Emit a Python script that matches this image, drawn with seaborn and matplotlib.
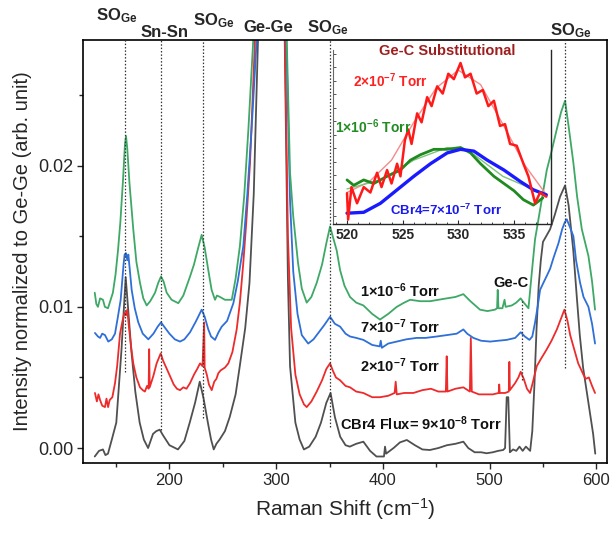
import numpy as np
import pandas as pd
import matplotlib
matplotlib.use("Agg")
import matplotlib.pyplot as plt
import seaborn as sns
from matplotlib.ticker import MultipleLocator

# ---------------- data ----------------
gray_x = [130, 134, 137.7, 140, 142.4, 146, 150.2, 155, 159, 164.3, 168, 172.1, 176, 180, 184.6, 187.7, 190.9, 194, 200, 208,
          214, 219, 224, 228.4, 232, 236, 239, 241.5, 244, 247, 252, 256.5, 262, 265.9, 271, 275, 279, 283, 292, 304, 308,
          311, 313, 318, 322, 326, 331, 337, 342, 347, 351, 355, 360, 365, 369, 375, 381.7, 388, 394, 401, 402, 403, 410,
          416, 422.4, 430, 437, 444, 452, 460, 468, 475.4, 480, 486, 492, 497.3, 503, 508, 512.7, 514.5, 516, 517.5, 519,
          522, 525, 528, 531, 534, 538, 540, 542, 544, 546, 548, 550, 553, 556.7, 561, 566, 570.7, 574, 578.4, 581.7,
          584.5, 587.6, 592, 597, 599]
gray_y = [-0.0006, -0.0002, -0.0001, -0.0005, -0.0004, 0.0006, 0.0018, 0.0069, 0.0121, 0.0069, 0.0040, 0.0018, 0.0006, 0.0,
          0.0010, 0.0012, 0.0013, 0.0009, 0.0002, -0.0001,
          0.0005, 0.0018, 0.0032, 0.0047, 0.0035, 0.0018, 0.0006, -0.0001, 0.0003, 0.0006, 0.0012, 0.0022, 0.0038, 0.0058,
          0.0085, 0.0117, 0.018, 0.029, 0.06, 0.06, 0.029,
          0.012, 0.0058, 0.0018, 0.0006, -0.0001, 0.0001, 0.0008, 0.0018, 0.0032, 0.0039, 0.0022, 0.0008, 0.0002, 0.0001,
          0.0003, 0.00045, -0.0002, -0.0006, -0.0006, 0.0001, -0.0004, 0.0,
          0.0004, 0.00057, 0.0002, -0.0001, -0.00014, 0.0, 0.0002, 0.0003, 0.00045, 0.0, -0.0003, -0.0003, -0.00037,
          -0.0003, -0.0002, -0.00014, 0.0, 0.0036, 0.0036, -0.0003,
          -0.0001, -0.0002, 0.0001, -0.0002, 0.0001, -0.0002, 0.0012, 0.0045, 0.0085, 0.0115, 0.0133, 0.0146, 0.0150,
          0.0155, 0.0165, 0.0178, 0.0186, 0.0172, 0.0140, 0.0107,
          0.0080, 0.0057, 0.0035, 0.0010, -0.0004]

red_x = [130.2, 132, 133.5, 135, 137, 139.6, 141, 142.5, 144, 146.5, 149, 151, 153.7, 156, 158, 159.3, 160.5, 162, 164, 166.1,
         169, 172.4, 175, 177, 179, 180.5, 181, 181.5, 184.9, 188, 191.8, 194, 197, 200.5, 204, 207, 209.9, 213, 216,
         219.3, 223, 226, 228.7, 231, 232.5, 233, 235, 237, 239.6, 242, 244, 245.8, 248, 252, 255.2, 259, 263, 266, 269.2,
         272, 275.5, 280.2, 292, 302, 308.3, 311, 314, 318, 322, 326, 328.6, 333, 338, 343, 347, 350.5, 353, 356, 359.9,
         365, 369.2, 375, 381.7, 390, 397.3, 405, 411, 412, 413, 420, 428.6, 437, 445, 452, 459, 459.8, 460.5, 468, 475.4,
         481.5, 482.4, 483.3, 490, 497.3, 503, 508.5, 509, 509.5, 514.5, 518, 518.5, 519, 523.9, 527, 529.1, 532, 535,
         537.9, 540, 544.2, 548, 553.6, 558, 563, 567, 570.1, 573, 575.5, 578.5, 583, 587.9, 590, 593, 596, 598.8]
red_y = [0.0039, 0.0033, 0.0038, 0.0034, 0.0030, 0.0029, 0.0035, 0.0029, 0.0034, 0.0036, 0.0046, 0.0058, 0.0081, 0.0090,
         0.0096, 0.0094, 0.0098, 0.0086, 0.0072, 0.0060,
         0.0050, 0.0043, 0.0041, 0.0040, 0.0044, 0.0042, 0.0070, 0.0043, 0.0051, 0.0060, 0.0067, 0.0062, 0.0057, 0.0051,
         0.0045, 0.0042, 0.0041, 0.0043, 0.0042,
         0.0046, 0.0052, 0.0056, 0.0060, 0.0058, 0.0089, 0.0057, 0.0052, 0.0045, 0.0041, 0.0047, 0.0049, 0.0053, 0.0055,
         0.0057, 0.0060, 0.0068, 0.0084, 0.0103, 0.0131,
         0.0160, 0.0202, 0.029, 0.06, 0.06, 0.029, 0.015, 0.0085, 0.0052, 0.0038, 0.0031, 0.0029, 0.0033, 0.0040, 0.0048,
         0.0056, 0.0060, 0.0055, 0.0050, 0.0048,
         0.0044, 0.0043, 0.0040, 0.0039, 0.0036, 0.0036, 0.0037, 0.0039, 0.0047, 0.0038, 0.0039, 0.0039, 0.0041, 0.0042,
         0.0040, 0.0040, 0.0065, 0.0040, 0.0042, 0.0043,
         0.0040, 0.0078, 0.0040, 0.0038, 0.0038, 0.0038, 0.0039, 0.0045, 0.0039, 0.0039, 0.0040, 0.0061, 0.0041, 0.0046,
         0.0050, 0.0054, 0.0049, 0.0042,
         0.0039, 0.0045, 0.0058, 0.0063, 0.0070, 0.0076, 0.0084, 0.0092, 0.0098, 0.0090, 0.0080, 0.0072, 0.0060, 0.0052,
         0.0049, 0.0050, 0.0044, 0.0039]

blue_x = [130.2, 133, 135, 137, 139.6, 142.7, 146, 149, 151.5, 154.3, 157, 158, 159.3, 160.5, 161.5, 163, 164.6, 167.5, 170.8,
          175, 180.2, 185, 189, 192.1, 196, 200, 205, 209.9, 214, 219.3, 225, 230.2, 233, 236.4, 239, 242.7, 246, 249, 254,
          259.9, 264, 269.2, 273, 277, 281.8, 294, 304, 309.5, 313, 316, 320, 324, 330, 335, 340, 345, 350.5, 355, 359.9,
          365, 369.2, 375, 381.7, 390, 397, 398, 399, 405, 413, 422, 431.7, 440, 450.5, 460, 469.2, 475.4, 479, 484.8, 492,
          500.5, 508, 516, 524, 529.1, 533, 537.3, 540, 542.6, 545, 547.3, 550.4, 553.6, 556.7, 560, 564.5, 568, 570.5,
          572.3, 575, 578.5, 581, 584.8, 588, 592.6, 596, 598.8]
blue_y = [0.00815, 0.0079, 0.0078, 0.0081, 0.0080, 0.00754, 0.0077, 0.0081, 0.0092, 0.0105, 0.0130, 0.0137, 0.0138, 0.0133,
          0.0137, 0.0125, 0.0112, 0.0099, 0.0089,
          0.0081, 0.0077, 0.0081, 0.0086, 0.0089, 0.0085, 0.0081, 0.0077, 0.00754, 0.0077, 0.0082, 0.0090, 0.0098, 0.0093,
          0.0084, 0.0079, 0.00766, 0.0082, 0.0086, 0.0090,
          0.01026, 0.0118, 0.0143, 0.0180, 0.0226, 0.029, 0.06, 0.06, 0.029, 0.0175, 0.0125, 0.0095, 0.0080, 0.0074, 0.0077,
          0.0082, 0.0087, 0.0093, 0.0088, 0.0086,
          0.0081, 0.0079, 0.0078, 0.00766, 0.0073, 0.0072, 0.0076, 0.0071, 0.0074, 0.00754, 0.0077, 0.0078, 0.0078, 0.0079,
          0.0080, 0.0081, 0.0084, 0.0081, 0.0078, 0.0076,
          0.00754, 0.0076, 0.00766, 0.0078, 0.0082, 0.0079, 0.00766, 0.0079, 0.0089, 0.0100, 0.0112, 0.0117, 0.0122, 0.0127,
          0.0135, 0.0145, 0.0155, 0.0160,
          0.0162, 0.0157, 0.0150, 0.0133, 0.0117, 0.0107, 0.0100, 0.0088, 0.0074]

green_x = [130, 131.5, 133, 135, 137.7, 139.5, 142.4, 144.5, 147, 149.5, 151.8, 154, 156.5, 158.3, 159.3, 160.5, 162.5, 166.1,
           169, 172.4, 175.5, 178.7, 182, 186.5, 189.5, 192.1, 194.5, 197.4, 202, 208.3, 213, 219.3, 223, 227, 230.2, 233,
           236.4, 239.5, 242.7, 244.5, 247.4, 252, 258.4, 262, 266, 270, 274, 278.6, 290, 304, 309.9, 313, 316, 320.5, 324,
           328.6, 333, 338, 343, 347, 350.5, 353, 356.7, 359.9, 364, 369.2, 375, 381.7, 390, 397.3, 405, 413, 420, 425.5,
           435, 444.2, 452, 459.8, 468, 475.4, 482, 491, 498, 505, 507, 507.6, 508.3, 512, 514, 515, 520.8, 525, 529.1, 532,
           536.4, 539.5, 542.6, 544.2, 548, 553.6, 558, 563, 567, 570.7, 574, 578.5, 582, 586.4, 592.6, 596, 598.8]
green_y = [0.0110, 0.0102, 0.0100, 0.0106, 0.0105, 0.0100, 0.0099, 0.0104, 0.0110, 0.0123, 0.0140, 0.0160, 0.0190, 0.0215,
           0.0221, 0.0212, 0.0188, 0.0155,
           0.0132, 0.0117, 0.0106, 0.0101, 0.0104, 0.0110, 0.0117, 0.01215, 0.0118, 0.0110, 0.0105, 0.01026, 0.0108, 0.01215,
           0.0130, 0.0142, 0.0151, 0.0142,
           0.0126, 0.0112, 0.0105, 0.0108, 0.0107, 0.0105, 0.0105, 0.0120, 0.0143, 0.0178, 0.0226, 0.029, 0.06, 0.06, 0.029,
           0.0195, 0.0164, 0.0131, 0.0113,
           0.0103, 0.0107, 0.0117, 0.0130, 0.0145, 0.0157, 0.0150, 0.0140, 0.0126, 0.0115, 0.0107, 0.0103, 0.0101, 0.0095,
           0.0091, 0.0095, 0.0100, 0.0103, 0.0105,
           0.0104, 0.0104, 0.0105, 0.0106, 0.0107, 0.0109, 0.0104, 0.0098, 0.0097, 0.0098, 0.0099, 0.0112, 0.0099, 0.0099,
           0.0105, 0.0100, 0.0101, 0.0103, 0.0106, 0.0103,
           0.0099, 0.0124, 0.0148, 0.0155, 0.0172, 0.0197, 0.0210, 0.0226, 0.0238, 0.0246, 0.0228, 0.0202, 0.0178, 0.0155,
           0.0136, 0.0118, 0.0098]

series_names = ["CBr4 9e-8", "2e-7", "7e-7", "1e-6"]
series_colors = ["#505050", "#ee2b2b", "#2e6fd8", "#3ea866"]

# peak marker positions (dotted guides) and their lower ends
guide_x = [158.5, 192.5, 231.5, 350, 570.5]
guide_ylow = [0.0054, 0.0013, 0.0021, 0.0015, 0.0057]
gec_x = 530.0
gec_range = (0.0048, 0.0105)

# inset data (Ge-C substitutional region, normalised units)
in_red_x = [520, 520.1, 520.4, 520.9, 521.5, 522.1, 522.7, 523.1, 523.6, 524.0, 524.5, 524.8, 525.2, 525.5, 525.8, 526.3,
            526.7, 527.2, 527.6, 528.1, 528.6, 529.1, 529.6, 530.2, 530.6, 531.1, 531.65, 532.2, 532.7, 533.2, 533.75,
            534.2, 534.65, 535.25, 535.85, 536.3, 536.9, 537.35, 537.9]
in_red_y = [0.176, 0.03, 0.21, 0.12, 0.21, 0.18, 0.29, 0.21, 0.305, 0.23, 0.34, 0.27, 0.47, 0.53, 0.45, 0.62,
            0.57, 0.71, 0.66, 0.77, 0.73, 0.84, 0.81, 0.90, 0.82, 0.84, 0.73, 0.75, 0.66, 0.69, 0.55,
            0.56, 0.45, 0.44, 0.34, 0.27, 0.12, 0.18, 0.157]
in_redfit_x = [520, 522, 524, 526, 528, 530, 532, 534, 536, 538]
in_redfit_y = [0.18, 0.24, 0.36, 0.57, 0.76, 0.86, 0.78, 0.56, 0.33, 0.16]
in_green_x = [520, 520.6, 521.5, 522.4, 523.6, 524.8, 525.7, 526.6, 527.8, 529.0, 530.2, 531.1, 532.0, 533.2, 534.1, 535.0,
              535.85, 536.75, 537.6]
in_green_y = [0.25, 0.22, 0.25, 0.23, 0.27, 0.305, 0.36, 0.39, 0.42, 0.42, 0.43, 0.40, 0.34, 0.27, 0.23, 0.19,
              0.14, 0.11, 0.15]
in_greenfit_x = [520, 523, 526, 529, 531, 534, 537, 538]
in_greenfit_y = [0.20, 0.25, 0.36, 0.43, 0.41, 0.27, 0.19, 0.17]
in_blue_x = [520, 521.5, 523, 524.5, 526, 527.5, 529, 530.2, 531.4, 532.6, 534.1, 535.6, 536.75, 537.9]
in_blue_y = [0.065, 0.07, 0.12, 0.195, 0.27, 0.34, 0.40, 0.42, 0.41, 0.36, 0.305, 0.24, 0.195, 0.167]
inset_ticks = [520, 525, 530, 535]

# ---------------- figure ----------------
sns.set_style("ticks")
plt.rcParams["font.family"] = ["Liberation Sans", "DejaVu Sans"]
plt.rcParams["mathtext.default"] = "regular"

W, H = 613, 536
fig = plt.figure(figsize=(W / 100, H / 100), dpi=100)
ax = fig.add_axes([83 / W, 1 - 463 / H, (607 - 83) / W, (463 - 40) / H])

frames = []
for name, xs, ys in [(series_names[0], gray_x, gray_y), (series_names[1], red_x, red_y),
                     (series_names[2], blue_x, blue_y), (series_names[3], green_x, green_y)]:
    frames.append(pd.DataFrame({"shift": xs, "intensity": ys, "series": name}))
df = pd.concat(frames, ignore_index=True)

sns.lineplot(data=df, x="shift", y="intensity", hue="series", hue_order=series_names,
             palette=dict(zip(series_names, series_colors)), estimator=None, sort=False,
             linewidth=1.3, legend=False, ax=ax)

for gx, gy in zip(guide_x, guide_ylow):
    ax.plot([gx, gx], [gy, 0.029], color="#333333", ls=(0, (1.2, 1.5)), lw=0.9, zorder=5)
ax.plot([gec_x, gec_x], list(gec_range), color="#333333", ls=(0, (1.2, 1.5)), lw=0.9, zorder=5)

ax.set_xlim(119, 610)
ax.set_ylim(-0.00106, 0.0289)
ax.set_xticks([200, 300, 400, 500, 600])
ax.xaxis.set_minor_locator(MultipleLocator(50))
ax.set_yticks([0.00, 0.01, 0.02])
ax.set_yticklabels(["0.00", "0.01", "0.02"])
ax.yaxis.set_minor_locator(MultipleLocator(0.005))
ax.tick_params(axis="x", which="both", direction="out", labelsize=12, length=4, width=1.0, pad=3)
ax.tick_params(axis="y", which="both", direction="out", labelsize=13, length=4, width=1.0, pad=3)
ax.tick_params(which="minor", length=3)
for s in ax.spines.values():
    s.set_visible(True)
    s.set_linewidth(1.2)
    s.set_color("black")

ax.set_xlabel("Raman Shift (cm$^{-1}$)", fontsize=15, labelpad=6)
ax.set_ylabel("Intensity normalized to Ge-Ge (arb. unit)", fontsize=14.5, labelpad=4)

# top peak labels
xt = ax.get_xaxis_transform()
top_labels = [("SO$_{Ge}$", 150.9, 1.047), ("Sn-Sn", 195.8, 1.007), ("SO$_{Ge}$", 241.8, 1.035),
              ("Ge-Ge", 292.4, 1.019), ("SO$_{Ge}$", 348.6, 1.019), ("SO$_{Ge}$", 576.4, 1.012)]
for t, x, y in top_labels:
    ax.text(x, y, t, transform=xt, ha="center", va="baseline", fontsize=12, fontweight="bold", clip_on=False)

# curve annotations
ann = dict(fontsize=10.5, fontweight="bold", ha="left", va="baseline", color="#111111")
ax.text(378.6, 0.0107, "1×10$^{-6}$ Torr", **ann)
ax.text(378.6, 0.00816, "7×10$^{-7}$ Torr", **ann)
ax.text(378.6, 0.0054, "2×10$^{-7}$ Torr", **ann)
ax.text(359.9, 0.00128, "CBr4 Flux= 9×10$^{-8}$ Torr", **ann)
ax.text(503.3, 0.0114, "Ge-C", **ann)

# ---------------- inset ----------------
iax = fig.add_axes([333 / W, 1 - 224 / H, 218 / W, 174 / H])
iax.patch.set_alpha(0)
ins = pd.concat([
    pd.DataFrame({"x": in_redfit_x, "y": in_redfit_y, "s": "redfit"}),
    pd.DataFrame({"x": in_greenfit_x, "y": in_greenfit_y, "s": "greenfit"}),
], ignore_index=True)
sns.lineplot(data=ins, x="x", y="y", hue="s", palette={"redfit": "#f48a8a", "greenfit": "#7cc47c"},
             estimator=None, sort=False, linewidth=1.0, legend=False, ax=iax)
sns.lineplot(x=in_green_x, y=in_green_y, color="#1f8a1f", linewidth=2.0, estimator=None, sort=False, ax=iax)
sns.lineplot(x=in_blue_x, y=in_blue_y, color="#1a1aff", linewidth=2.4, estimator=None, sort=False, ax=iax)
sns.lineplot(x=in_red_x, y=in_red_y, color="#ff1a1a", linewidth=1.8, estimator=None, sort=False, ax=iax)
iax.set_xlim(518.74, 538.33)
iax.set_ylim(0.005, 0.972)
iax.set_xlabel("")
iax.set_ylabel("")
iax.set_xticks(inset_ticks)
iax.xaxis.set_minor_locator(MultipleLocator(1))
iax.set_yticks(np.linspace(0.05, 0.95, 13))
iax.set_yticklabels([])
iax.tick_params(axis="x", which="major", direction="in", length=3, labelsize=10, pad=3)
iax.tick_params(axis="x", which="minor", direction="in", length=1.5)
iax.tick_params(axis="y", direction="in", length=2.5, width=0.7, colors="#555555")
for lab in iax.get_xticklabels():
    lab.set_fontweight("bold")
iax.spines["top"].set_visible(False)
iax.spines["left"].set_color("#666666")
iax.spines["left"].set_linewidth(0.8)
iax.spines["right"].set_linewidth(1.0)
iax.spines["bottom"].set_linewidth(1.0)

it = iax.transAxes
iax.text((447 - 333) / 218, (224 - 55) / 174, "Ge-C Substitutional", transform=it, ha="center", va="baseline",
         fontsize=10.5, fontweight="bold", color="#9e1e1e", clip_on=False)
iax.text((353 - 333) / 218, (224 - 87) / 174, "2×10$^{-7}$ Torr", transform=it, ha="left", va="baseline",
         fontsize=9.8, fontweight="bold", color="#ff2020")
iax.text((335 - 333) / 218, (224 - 133) / 174, "1×10$^{-6}$ Torr", transform=it, ha="left", va="baseline",
         fontsize=10, fontweight="bold", color="#228b22")
iax.text((390 - 333) / 218, (224 - 215) / 174, "CBr4=7×10$^{-7}$ Torr", transform=it, ha="left", va="baseline",
         fontsize=9.5, fontweight="bold", color="#1a1aee")

fig.savefig("out.png", dpi=100)
